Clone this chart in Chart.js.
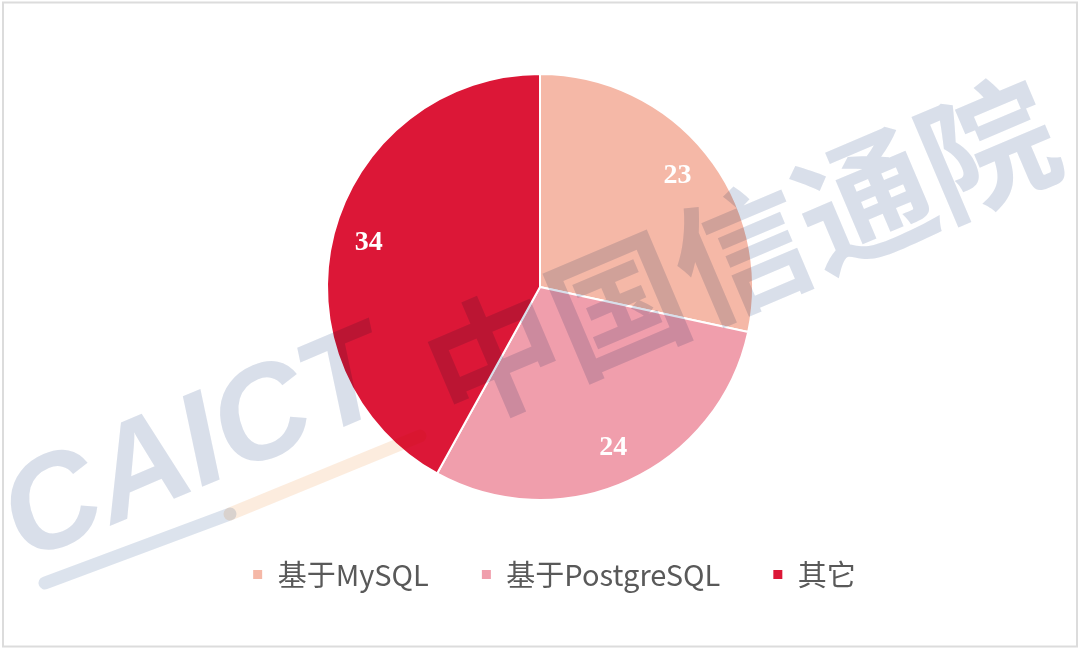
<!DOCTYPE html>
<html>
<head>
<meta charset="utf-8">
<script src="https://cdn.jsdelivr.net/npm/chart.js@4/dist/chart.umd.min.js"></script>
<style>
  html, body { margin: 0; padding: 0; background: #fff; }
  #wrap { width: 1080px; height: 650px; }
</style>
</head>
<body>
<div id="wrap"><canvas id="pieChart" width="1080" height="650"></canvas></div>
<script>
// data
const categories = ["基于MySQL", "基于PostgreSQL", "其它"];
const counts = [23, 24, 34];
const sliceColors = ["#F5B8A7", "#F09EAC", "#DC1737"];

// value labels inside the slices
const sliceLabels = {
  id: "sliceLabels",
  afterDatasetsDraw(chart) {
    const { ctx } = chart;
    const meta = chart.getDatasetMeta(0);
    ctx.save();
    ctx.font = "bold 28px 'Liberation Serif', 'Times New Roman', serif";
    ctx.fillStyle = "#fff";
    ctx.textAlign = "center";
    ctx.textBaseline = "middle";
    meta.data.forEach((arc, i) => {
      const p = arc.getProps(["x", "y", "startAngle", "endAngle", "outerRadius"], true);
      const mid = (p.startAngle + p.endAngle) / 2;
      const r = p.outerRadius * 0.83;
      ctx.fillText(String(counts[i]), p.x + Math.cos(mid) * r, p.y + Math.sin(mid) * r);
    });
    ctx.restore();
  }
};

// the legend sits a little right of centre in the original
const legendNudge = {
  id: "legendNudge",
  afterLayout(chart) {
    if (chart.legend) {
      chart.legend.left += 14;
      chart.legend.right += 14;
    }
  }
};

// faint CAICT watermark + frame
const watermark = {
  id: "watermark",
  afterDraw(chart) {
    const { ctx } = chart;
    const ang = -23 * Math.PI / 180;
    ctx.save();
    ctx.globalCompositeOperation = "multiply";
    ctx.globalAlpha = 0.85;

    // stripe under the logo
    ctx.lineWidth = 13;
    ctx.lineCap = "round";
    ctx.strokeStyle = "#d6deea";
    ctx.beginPath(); ctx.moveTo(45, 583); ctx.lineTo(230, 514); ctx.stroke();
    ctx.strokeStyle = "#fce9d9";
    ctx.beginPath(); ctx.moveTo(230, 514); ctx.lineTo(420, 436); ctx.stroke();

    ctx.fillStyle = "#d2dae7";
    ctx.textAlign = "center";
    ctx.textBaseline = "middle";

    ctx.save();
    ctx.translate(196, 450);
    ctx.rotate(ang);
    ctx.font = "bold italic 132px 'Liberation Sans', Arial, sans-serif";
    ctx.fillText("CAICT", 0, 0);
    ctx.restore();

    const chars = "中国信通院".split("");
    chars.forEach((ch, i) => {
      ctx.save();
      ctx.translate(494 + i * 134 * Math.cos(ang), 357 + i * 134 * Math.sin(ang));
      ctx.rotate(ang);
      ctx.font = "bold 134px 'Noto Sans CJK SC', sans-serif";
      ctx.fillText(ch, 0, 0);
      ctx.restore();
    });
    ctx.restore();

    ctx.save();
    ctx.strokeStyle = "#dcdcdc";
    ctx.lineWidth = 2;
    ctx.strokeRect(3, 2.5, 1074, 644);
    ctx.restore();
  }
};

new Chart(document.getElementById("pieChart"), {
  type: "pie",
  data: {
    labels: categories,
    datasets: [{
      data: counts,
      backgroundColor: sliceColors,
      borderColor: "#fff",
      borderWidth: 2
    }]
  },
  options: {
    responsive: false,
    animation: false,
    radius: 213,
    layout: { padding: { top: 66, bottom: 51, left: 0, right: 0 } },
    plugins: {
      legend: {
        position: "bottom",
        labels: {
          boxWidth: 11,
          boxHeight: 11,
          padding: 52,
          color: "#595959",
          font: { size: 29, family: "'Noto Sans CJK SC', sans-serif" }
        }
      },
      tooltip: { enabled: false }
    }
  },
  plugins: [sliceLabels, legendNudge, watermark]
});
</script>
</body>
</html>
